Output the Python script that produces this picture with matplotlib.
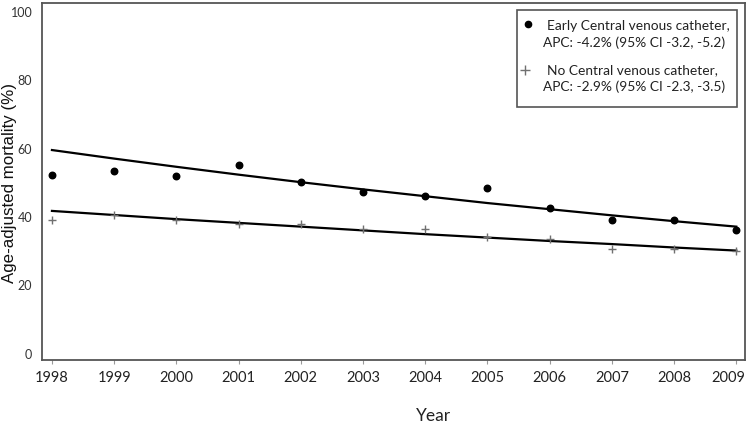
import matplotlib
matplotlib.use("Agg")
import matplotlib.pyplot as plt
from matplotlib.lines import Line2D
from matplotlib.patches import Rectangle
import matplotlib.transforms as mtrans

years = [1998, 1999, 2000, 2001, 2002, 2003, 2004, 2005, 2006, 2007, 2008, 2009]
early_cvc = [52.4, 53.4, 52.0, 55.1, 50.3, 47.4, 46.1, 48.4, 42.6, 39.1, 39.0, 36.1]
early_fit = [59.6, 57.1, 54.7, 52.4, 50.2, 48.1, 46.1, 44.1, 42.3, 40.5, 38.8, 37.2]
no_cvc = [39.0, 40.6, 39.0, 38.1, 38.0, 36.6, 36.6, 34.2, 33.6, 30.8, 30.6, 30.1]
no_fit = [41.8, 40.6, 39.4, 38.3, 37.2, 36.1, 35.0, 34.0, 33.0, 32.1, 31.1, 30.2]
yticks = [0, 20, 40, 60, 80, 100]
label_early = ["Early Central venous catheter,", "APC: -4.2% (95% CI -3.2, -5.2)"]
label_no = ["No Central venous catheter,", "APC: -2.9% (95% CI -2.3, -3.5)"]

plt.rcParams['font.family'] = ['Lato', 'DejaVu Sans']

W, H = 750, 424
fig = plt.figure(figsize=(7.5, 4.24), dpi=100)
ax = fig.add_axes([42/W, 1-360/H, (745-42)/W, (360-3)/H])

def fx(x):
    return x / W

def fy(y):
    return 1 - y / H

ax.plot(years, early_fit, color='black', lw=1.6, zorder=2)
ax.plot(years, no_fit, color='black', lw=1.6, zorder=2)
ax.scatter(years, early_cvc, marker='o', s=22, color='black', zorder=3)
ax.scatter(years, no_cvc, marker='+', s=40, color='#707070', linewidths=1.0, zorder=3)

ax.set_xlim(1997.84, 2009.14)
ax.set_ylim(-1.8, 102.6)
ax.set_xticks(years)
ax.set_xticklabels([str(y) for y in years], fontsize=10.5, color='#222222')
ax.set_yticks(yticks)
ax.set_yticklabels([str(v) for v in yticks], fontsize=9, color='#333333')
ax.tick_params(axis='y', length=0, pad=7)
ax.tick_params(axis='x', length=3, direction='out', color='#999999', pad=5)
last = ax.get_xticklabels()[-1]
last.set_transform(last.get_transform() + mtrans.ScaledTranslation(-8/100, 0, fig.dpi_scale_trans))

for s in ax.spines.values():
    s.set_color('#555555')
    s.set_linewidth(1.3)

fig.text(fx(10), fy(183), "Age-adjusted mortality (%)", fontsize=12.2, family=['Liberation Sans'],
         rotation=90, ha='center', va='center', color='#111111')
fig.text(fx(433), fy(416), "Year", fontsize=12.5, ha='center', va='center', color='#222222')

# legend box drawn manually
fig.add_artist(Rectangle((fx(517), fy(107)), fx(737) - fx(517), fy(10) - fy(107),
                         transform=fig.transFigure, facecolor='white', edgecolor='#555555',
                         linewidth=1.2, zorder=5))
fig.add_artist(Line2D([fx(528)], [fy(24)], transform=fig.transFigure, marker='o', ls='none',
                      color='black', markersize=4.5, zorder=6))
fig.add_artist(Line2D([fx(525)], [fy(70)], transform=fig.transFigure, marker='+', ls='none',
                      color='#707070', markersize=6.5, markeredgewidth=1.0, zorder=6))
for (x, y, t) in [(547, 26, label_early[0]), (543, 43, label_early[1]),
                  (547, 70, label_no[0]), (543, 87, label_no[1])]:
    fig.text(fx(x), fy(y), t, fontsize=9.9, ha='left', va='center', color='#222222', zorder=7)

fig.savefig("out.png", dpi=100)
